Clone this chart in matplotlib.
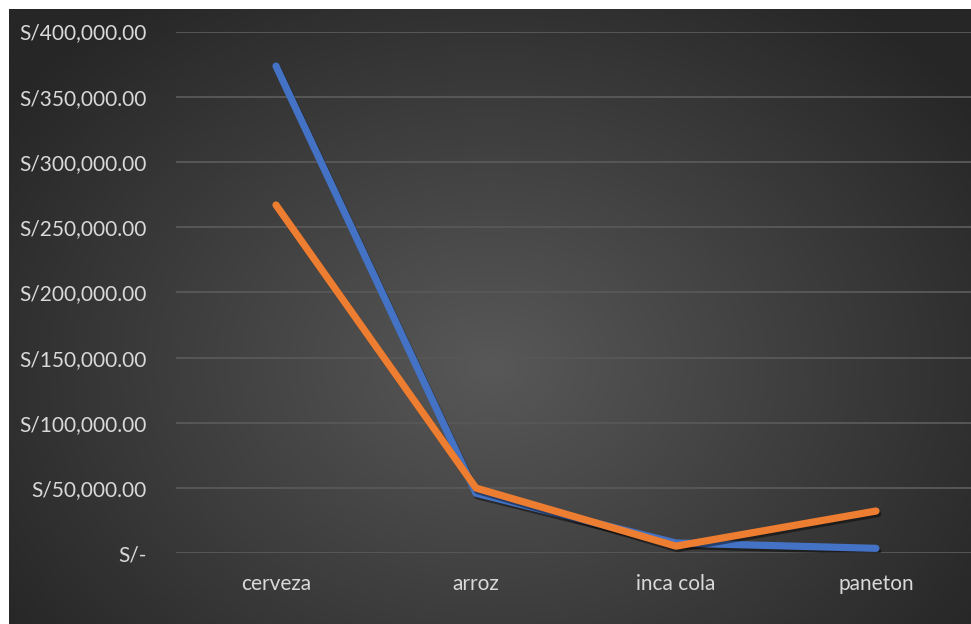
import numpy as np
import matplotlib
matplotlib.use("Agg")
import matplotlib.pyplot as plt
import matplotlib.patheffects as pe
from matplotlib.ticker import FuncFormatter

plt.rcParams['font.family'] = ['Lato', 'DejaVu Sans']

categories = ["cerveza", "arroz", "inca cola", "paneton"]
serie_azul = [373500, 46000, 7900, 3800]
serie_naranja = [267000, 50000, 5500, 32400]
y_ticks = [0, 50000, 100000, 150000, 200000, 250000, 300000, 350000, 400000]

W, H = 971, 624
fig = plt.figure(figsize=(W / 100, H / 100), dpi=100, facecolor="white")

# dark radial-gradient panel
bg = fig.add_axes([9 / W, 0, (W - 9) / W, (H - 9) / H])
bg.set_axis_off()
ny, nx = 300, 480
yy, xx = np.mgrid[0:ny, 0:nx]
cx, cy = nx * 0.50, ny * 0.58
r = np.sqrt(((xx - cx) / (nx * 0.62)) ** 2 + ((yy - cy) / (ny * 0.75)) ** 2)
r = np.clip(r, 0, 1)
light = np.array([0x58, 0x58, 0x58]) / 255
dark = np.array([0x26, 0x26, 0x26]) / 255
img = light[None, None, :] * (1 - r[..., None]) + dark[None, None, :] * r[..., None]
bg.imshow(img, aspect="auto", extent=[0, 1, 0, 1], origin="upper")
bg.set_xlim(0, 1)
bg.set_ylim(0, 1)

left, right = 176, 971
y_zero, y_top = 553.3, 31.5
ax = fig.add_axes([left / W, (H - y_zero) / H, (right - left) / W, (y_zero - y_top) / H])
ax.patch.set_alpha(0)
ax.set_xlim(-0.5, -0.5 + (right - left) / 200)
ax.set_ylim(0, 400000)

for s in ax.spines.values():
    s.set_visible(False)
ax.set_yticks(y_ticks)
ax.yaxis.grid(True, color="#575757", linewidth=1.4)
ax.set_axisbelow(True)

def money(v, _pos):
    if v == 0:
        return "S/-"
    return "S/{:,.2f}".format(v)

ax.yaxis.set_major_formatter(FuncFormatter(money))
ax.set_xticks(range(len(categories)))
ax.set_xticklabels(categories)
ax.tick_params(axis="y", length=0, pad=21, labelsize=15, labelcolor="#d9d9d9")
ax.tick_params(axis="x", length=0, pad=15, labelsize=15, labelcolor="#d9d9d9")

x = np.arange(len(categories))
shadow = [pe.SimpleLineShadow(offset=(1.2, -1.8), shadow_color="black", alpha=0.45), pe.Normal()]
ax.plot(x, serie_azul, color="#4472C4", linewidth=5.2, solid_capstyle="round",
        path_effects=shadow, zorder=3)
ax.plot(x, serie_naranja, color="#ED7D31", linewidth=5.2, solid_capstyle="round",
        path_effects=shadow, zorder=4)

fig.savefig("out.png", dpi=100, facecolor="white")
